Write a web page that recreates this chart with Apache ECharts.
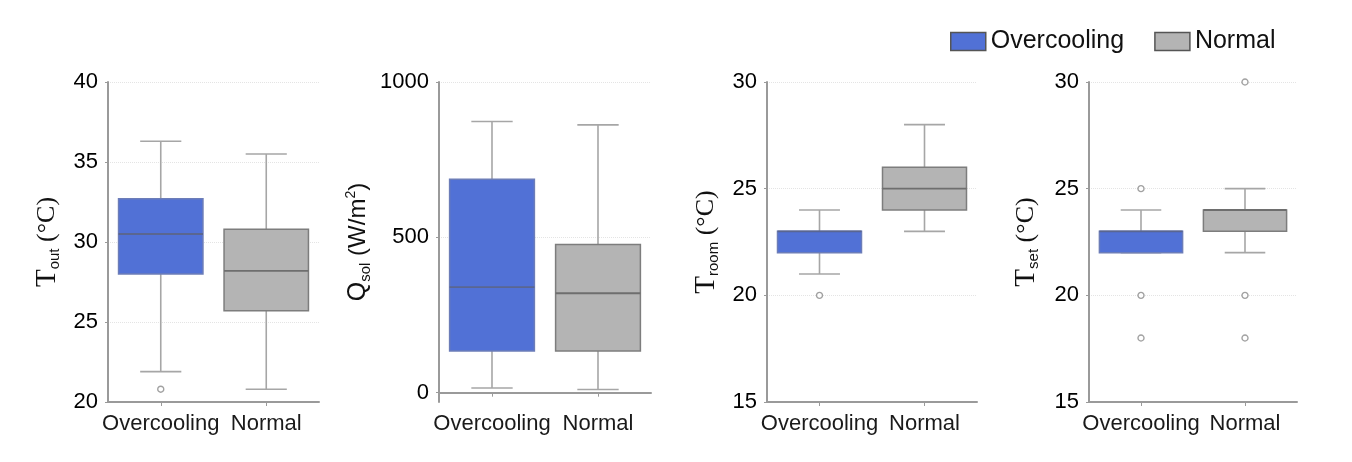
<!DOCTYPE html>
<html><head><meta charset="utf-8">
<script src="https://cdn.jsdelivr.net/npm/echarts@6/dist/echarts.min.js"></script>
<style>html,body{margin:0;padding:0;background:#fff}#c{width:1352px;height:462px}</style>
</head><body><div id="c"></div>
<script>
// ---------- data ----------
const categories = ['Overcooling', 'Normal'];
// [low, Q1, median, Q3, high]
const toutBoxes  = [[21.9, 28.0, 30.5, 32.7, 36.3], [20.8, 25.7, 28.2, 30.8, 35.5]];
const toutOutliers = [[0, 20.8]];
const qsolBoxes  = [[15, 134, 340, 687, 873], [10, 134, 320, 477, 862]];
const qsolOutliers = [];
const troomBoxes = [[21, 22, 23, 23, 24], [23, 24, 25, 26, 28]];
const troomOutliers = [[0, 20]];
const tsetBoxes  = [[22, 22, 23, 23, 24], [22, 23, 24, 24, 25]];
const tsetOutliers = [[0, 25], [0, 20], [0, 18], [1, 30], [1, 20], [1, 18]];
const toutTicks = [20, 25, 30, 35, 40];
const qsolTicks = [0, 500, 1000];
const troomTicks = [15, 20, 25, 30];
const tsetTicks = [15, 20, 25, 30];

// ---------- styles ----------
const FONT = 'Liberation Sans, Arial, sans-serif';
const SERIF = 'Liberation Serif, Times New Roman, serif';
const fills = ['#5171d6', '#b4b4b4'];
const borders = ['#6c7db8', '#7d7d7d'];
const medianColors = ['#5a6690', '#6e6e6e'];
const whiskerColor = '#a6a6a6';

const panels = [
  {left: 108, width: 211, min: 20, max: 40, ticks: toutTicks, boxes: toutBoxes, outliers: toutOutliers,
   name: '{t|T}{s|out}{u| (°C)}', gap: 44},
  {left: 439, width: 212, min: -30, max: 1000, ticks: qsolTicks, boxes: qsolBoxes, outliers: qsolOutliers,
   name: '{q|Q}{s|sol}{a| (W/m}{p|2}{a|)}', gap: 64},
  {left: 767, width: 210, min: 15, max: 30, ticks: troomTicks, boxes: troomBoxes, outliers: troomOutliers,
   name: '{t|T}{s|room}{u| (°C)}', gap: 44},
  {left: 1089, width: 208, min: 15, max: 30, ticks: tsetTicks, boxes: tsetBoxes, outliers: tsetOutliers,
   name: '{t|T}{s|set}{u| (°C)}', gap: 46}
];

const rich = {
  t: {fontFamily: SERIF, fontSize: 29, color: '#111', lineHeight: 34, verticalAlign: 'middle'},
  q: {fontFamily: FONT, fontSize: 25, color: '#111', lineHeight: 34, verticalAlign: 'middle'},
  s: {fontFamily: FONT, fontSize: 15, color: '#111', lineHeight: 34, verticalAlign: 'bottom', padding: [0, 0, 2, 0]},
  u: {fontFamily: SERIF, fontSize: 26, color: '#111', lineHeight: 34, verticalAlign: 'middle'},
  a: {fontFamily: FONT, fontSize: 24, color: '#111', lineHeight: 34, verticalAlign: 'middle'},
  p: {fontFamily: FONT, fontSize: 14, color: '#111', lineHeight: 34, verticalAlign: 'top', padding: [3, 0, 0, 0]}
};

function renderBox(params, api) {
  const c = api.value(0);
  const ci = c === 0 ? 0 : 1;
  const band = api.size([1, 0])[0];
  const bw = band * 0.8, cw = band * 0.39;
  const pLow = api.coord([c, api.value(1)]);
  const pQ1 = api.coord([c, api.value(2)]);
  const pMed = api.coord([c, api.value(3)]);
  const pQ3 = api.coord([c, api.value(4)]);
  const pHigh = api.coord([c, api.value(5)]);
  const x = pMed[0];
  const ws = {stroke: whiskerColor, lineWidth: 1.6};
  return {type: 'group', children: [
    {type: 'line', shape: {x1: x, y1: pHigh[1], x2: x, y2: pQ3[1]}, style: ws},
    {type: 'line', shape: {x1: x, y1: pLow[1], x2: x, y2: pQ1[1]}, style: ws},
    {type: 'line', shape: {x1: x - cw / 2, y1: pHigh[1], x2: x + cw / 2, y2: pHigh[1]}, style: ws},
    {type: 'line', shape: {x1: x - cw / 2, y1: pLow[1], x2: x + cw / 2, y2: pLow[1]}, style: ws},
    {type: 'rect', shape: {x: x - bw / 2, y: pQ3[1], width: bw, height: pQ1[1] - pQ3[1]},
     style: {fill: fills[ci], stroke: borders[ci], lineWidth: 1.5}},
    {type: 'line', shape: {x1: x - bw / 2, y1: pMed[1], x2: x + bw / 2, y2: pMed[1]},
     style: {stroke: medianColors[ci], lineWidth: 1.8}}
  ]};
}

const grid = [], xAxis = [], yAxis = [], series = [];
panels.forEach((p, i) => {
  grid.push({left: p.left, width: p.width, top: 82, height: 320});
  xAxis.push({
    type: 'category', gridIndex: i, data: categories,
    axisLine: {lineStyle: {color: '#9a9a9a', width: 2}},
    axisTick: {show: true, alignWithLabel: true, length: 4, lineStyle: {color: '#9a9a9a'}},
    axisLabel: {color: '#1a1a1a', fontSize: 22, fontFamily: FONT, margin: 11, interval: 0},
    splitLine: {show: false}
  });
  yAxis.push({
    type: 'value', gridIndex: i, min: p.min, max: p.max,
    axisLine: {show: true, lineStyle: {color: '#9a9a9a', width: 2}},
    axisTick: {show: true, length: 3, customValues: p.ticks, lineStyle: {color: '#9a9a9a'}},
    axisLabel: {color: '#000', fontSize: 22, fontFamily: FONT, margin: 10, customValues: p.ticks,
                formatter: v => String(v)},
    splitLine: {show: true, lineStyle: {color: '#e4e4e4', type: 'dotted', width: 1}},
    name: p.name, nameLocation: 'middle', nameRotate: 90, nameGap: p.gap,
    nameTextStyle: {rich: rich}
  });
  p.boxes.forEach((b, ci) => {
    series.push({
      type: 'custom', name: categories[ci], xAxisIndex: i, yAxisIndex: i,
      itemStyle: {color: fills[ci], borderColor: '#555', borderWidth: 1.5},
      renderItem: renderBox,
      encode: {x: 0, y: [1, 2, 3, 4, 5]},
      data: [[ci].concat(b)], z: 2, silent: true
    });
  });
  series.push({
    type: 'scatter', xAxisIndex: i, yAxisIndex: i, symbol: 'circle', symbolSize: 6,
    itemStyle: {color: '#fff', borderColor: '#8a8a8a', borderWidth: 1.4},
    data: p.outliers, z: 3, silent: true
  });
});

const chart = echarts.init(document.getElementById('c'), null, {renderer: 'canvas'});
chart.setOption({
  animation: false,
  backgroundColor: '#fff',
  legend: {
    data: categories, top: 24, left: 945, itemWidth: 35, itemHeight: 18, itemGap: 30,
    icon: 'rect',
    itemStyle: {borderColor: '#555', borderWidth: 1.5},
    textStyle: {fontSize: 25, fontFamily: FONT, color: '#111'}
  },
  grid: grid, xAxis: xAxis, yAxis: yAxis, series: series
});
</script></body></html>
